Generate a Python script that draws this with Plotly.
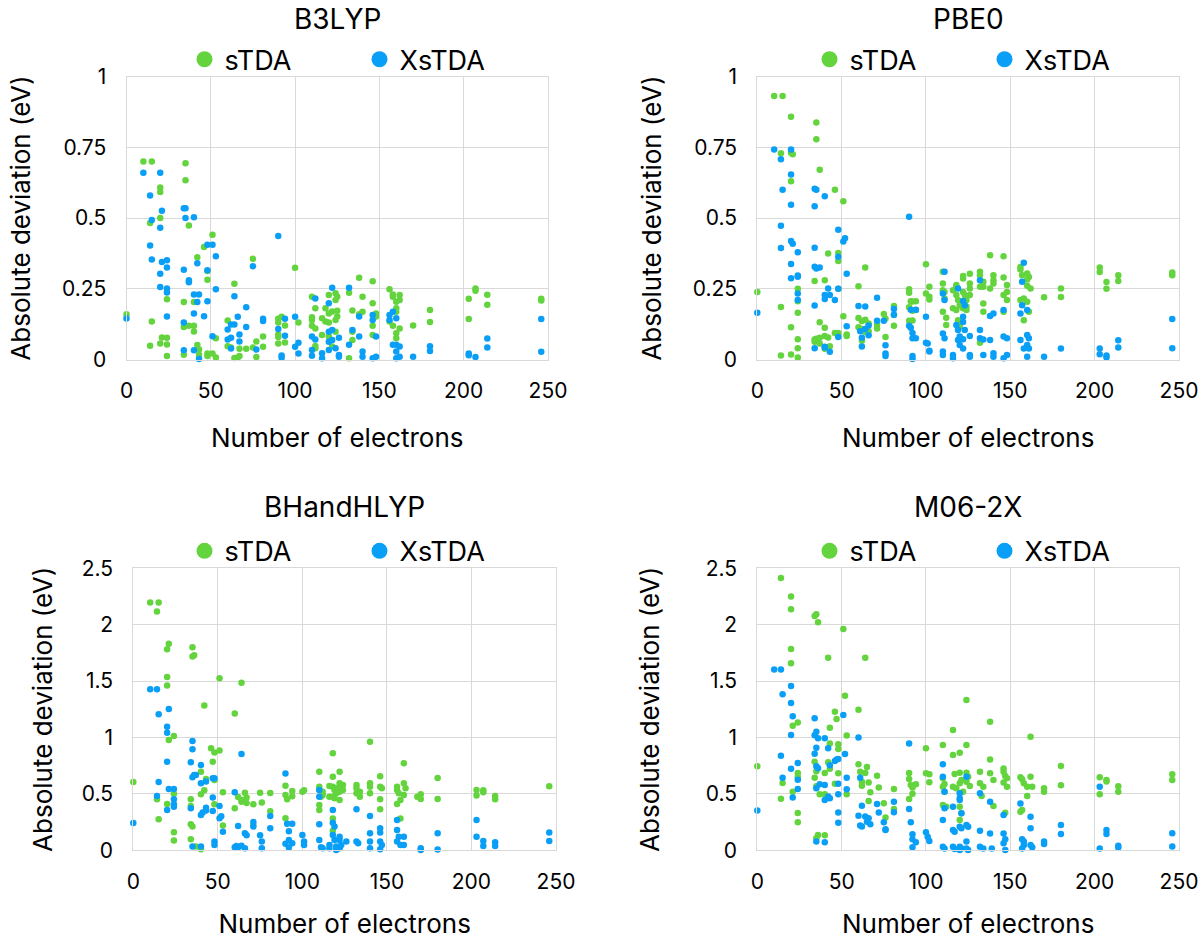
import plotly.graph_objects as go

# ---------------- data: (number of electrons, absolute deviation in eV) ----------------
B3LYP_STDA = [(0,0.16),(10,0.70),(15,0.70),(14,0.483),(15,0.134),(14,0.049),
    (20,0.608),(20,0.592),(20,0.50),(20,0.057),(21,0.078),
    (24,0.213),(24,0.077),(24,0.053),(24,0.012),
    (34,0.203),(34,0.115),(34,0.017),(35,0.694),(35,0.634),(37,0.474),(37,0.119),
    (40,0.203),(40,0.119),(40,0.099),(42,0.362),(42,0.051),(43,0.035),(43,0.017),(46,0.398),
    (48,0.313),(48,0.282),(48,0.021),(48,0.012),(51,0.441),(51,0.021),(53,0.075),(53,0.007),
    (60,0.138),(60,0.047),(62,0.042),(64,0.268),(64,0.005),(66,0.007),(67,0.038),(67,0.012),
    (71,0.038),(75,0.356),(75,0.042),(77,0.064),(77,0.009),(81,0.081),(81,0.045),
    (90,0.144),(90,0.131),(90,0.088),(90,0.08),(90,0.057),(92,0.151),(94,0.12),(94,0.06),
    (100,0.324),(102,0.131),
    (110,0.222),(110,0.149),(110,0.140),(110,0.119),(112,0.181),(112,0.110),(112,0.048),(112,0.040),
    (116,0.146),(116,0.087),(118,0.181),(118,0.134),(120,0.228),(120,0.163),(120,0.131),(120,0.081),
    (122,0.17),(122,0.046),(124,0.234),(124,0.210),(124,0.14),(124,0.098),(125,0.222),(125,0.172),(125,0.152),
    (132,0.236),(132,0.004),(134,0.173),(134,0.098),(134,0.069),(138,0.289),(138,0.16),(140,0.169),(140,0.222),
    (146,0.277),(146,0.199),(146,0.119),(146,0.087),(148,0.163),(148,0.152),(156,0.248),(156,0.134),
    (158,0.23),(158,0.222),(158,0.119),(160,0.204),(160,0.181),(160,0.169),(160,0.093),(160,0.075),
    (162,0.210),(162,0.228),(162,0.110),(170,0.12),(180,0.175),(180,0.133),(203,0.215),(203,0.143),
    (207,0.251),(207,0.243),(214,0.229),(214,0.194),(246,0.215),(246,0.209)]

B3LYP_XSTDA = [(0,0.145),(10,0.66),(14,0.58),(14,0.403),(15,0.493),(15,0.354),
    (20,0.66),(20,0.466),(20,0.303),(20,0.256),(21,0.526),(21,0.345),
    (24,0.351),(24,0.325),(24,0.251),(24,0.237),(24,0.152),
    (34,0.535),(34,0.317),(34,0.131),(34,0.033),(35,0.535),(35,0.50),(37,0.28),(37,0.273),
    (40,0.503),(40,0.23),(40,0.163),(40,0.033),(42,0.34),(42,0.203),(43,0.23),(43,0.002),(46,0.153),
    (48,0.406),(48,0.316),(48,0.206),(51,0.406),(51,0.082),(53,0.365),(53,0.248),
    (60,0.106),(60,0.071),(62,0.124),(62,0.077),(62,0.039),(64,0.224),(64,0.124),(66,0.151),
    (67,0.088),(67,0.064),(71,0.185),(71,0.115),(75,0.33),(77,0.035),(81,0.144),(81,0.136),
    (90,0.437),(90,0.108),(92,0.006),(92,0.014),(94,0.144),(94,0.084),(100,0.151),(100,0.045),
    (102,0.059),(102,0.021),(110,0.081),(110,0.034),(110,0.013),(112,0.216),(112,0.071),
    (116,0.022),(116,0.004),(120,0.199),(120,0.098),(120,0.063),(120,0.034),
    (122,0.254),(122,0.104),(122,0.069),(124,0.040),(126,0.016),(126,0.077),(126,0.010),
    (132,0.254),(132,0.052),(134,0.104),(138,0.081),(138,0.152),(140,0.028),(140,0.010),
    (146,0.157),(146,0.140),(146,0.004),(148,0.081),(148,0.010),(156,0.157),(156,0.140),
    (158,0.169),(158,0.052),(160,0.146),(160,0.052),(160,0.028),(160,0.004),(162,0.046),(162,0.010),
    (170,0.010),(180,0.047),(180,0.030),(203,0.021),(203,0.015),(207,0.009),(214,0.074),(214,0.042),
    (246,0.143),(246,0.027)]

PBE0_STDA = [(0,0.239),(10,0.932),(15,0.932),(14,0.729),(14,0.186),(14,0.014),
    (20,0.858),(20,0.731),(21,0.726),(20,0.630),(20,0.114),(20,0.018),
    (24,0.206),(24,0.165),(24,0.25),(24,0.072),(24,0.040),(24,0.007),
    (35,0.838),(35,0.779),(34,0.278),(34,0.071),(35,0.073),(34,0.063),
    (37,0.671),(37,0.132),(37,0.077),(37,0.057),(40,0.28),(40,0.112),(40,0.083),(40,0.038),
    (42,0.375),(42,0.078),(43,0.047),(46,0.600),(46,0.094),
    (48,0.377),(48,0.348),(48,0.25),(48,0.094),(48,0.085),(51,0.560),(51,0.153),(53,0.088),(53,0.083),
    (60,0.259),(60,0.147),(62,0.136),(60,0.114),(62,0.108),(62,0.066),
    (64,0.325),(64,0.141),(64,0.106),(64,0.097),(66,0.127),(66,0.100),(71,0.122),(71,0.110),
    (75,0.161),(76,0.144),(76,0.080),(81,0.189),(81,0.157),(81,0.119),
    (90,0.248),(90,0.236),(91,0.206),(90,0.185),(90,0.137),(92,0.138),(92,0.205),(92,0.172),
    (94,0.206),(94,0.175),(100,0.337),(100,0.233),(102,0.222),(102,0.212),(102,0.257),
    (110,0.310),(110,0.269),(110,0.245),(111,0.239),(111,0.216),(110,0.169),(112,0.148),(112,0.122),
    (116,0.245),(116,0.181),(118,0.263),(118,0.257),(118,0.228),(119,0.210),(118,0.175),(119,0.139),(120,0.133),
    (120,0.192),(120,0.116),(122,0.295),(122,0.286),(122,0.239),(123,0.228),(122,0.181),
    (124,0.210),(124,0.187),(124,0.175),(126,0.303),(126,0.269),(126,0.251),(126,0.228),
    (132,0.310),(132,0.298),(132,0.257),(132,0.059),(134,0.275),(134,0.257),(134,0.198),(134,0.169),
    (138,0.369),(138,0.251),(140,0.298),(140,0.280),(140,0.269),
    (146,0.365),(146,0.290),(146,0.228),(146,0.169),(148,0.263),(148,0.239),(148,0.210),
    (156,0.327),(156,0.318),(157,0.298),(156,0.210),(158,0.216),(158,0.139),
    (160,0.304),(161,0.292),(160,0.283),(160,0.261),(162,0.251),(160,0.204),(161,0.169),
    (170,0.22),(180,0.251),(180,0.221),(203,0.325),(203,0.309),(207,0.274),(207,0.25),
    (214,0.298),(214,0.278),(246,0.308),(246,0.298)]

PBE0_XSTDA = [(0,0.165),(10,0.743),(14,0.708),(14,0.473),(14,0.394),(15,0.600),
    (20,0.743),(20,0.654),(20,0.547),(21,0.409),(20,0.419),(20,0.338),(20,0.287),
    (24,0.379),(24,0.297),(24,0.293),(24,0.210),(24,0.233),
    (34,0.604),(35,0.600),(34,0.542),(34,0.395),(34,0.328),(35,0.322),(34,0.191),(34,0.040),
    (37,0.325),(40,0.577),(40,0.228),(40,0.214),(40,0.045),(40,0.042),
    (42,0.251),(43,0.228),(43,0.027),(46,0.21),(48,0.459),(48,0.363),(48,0.25),(48,0.08),
    (51,0.417),(52,0.429),(53,0.303),(53,0.118),(60,0.189),(61,0.1),(62,0.077),(62,0.046),
    (64,0.187),(64,0.108),(66,0.12),(66,0.086),(71,0.218),(71,0.137),
    (75,0.137),(76,0.05),(76,0.021),(76,0.012),(81,0.179),(81,0.158),
    (90,0.505),(90,0.119),(91,0.112),(92,0.094),(92,0.012),(92,0.002),(91,0.176),(92,0.075),
    (94,0.176),(94,0.075),(100,0.151),(100,0.059),(101,0.057),(102,0.031),(102,0.028),
    (111,0.310),(110,0.233),(111,0.210),(110,0.092),(111,0.075),(110,0.028),(110,0.016),
    (116,0.016),(116,0.004),(119,0.251),(118,0.122),(119,0.104),(120,0.081),(119,0.069),(120,0.051),
    (122,0.207),(123,0.192),(122,0.151),(122,0.133),(123,0.104),(122,0.072),(122,0.039),
    (126,0.083),(126,0.016),(126,0.010),(132,0.280),(132,0.104),(132,0.075),(134,0.071),(134,0.016),
    (138,0.154),(138,0.069),(140,0.163),(140,0.022),(140,0.010),(146,0.175),(146,0.081),(146,0.004),
    (148,0.075),(148,0.016),(158,0.342),(157,0.275),(157,0.192),(156,0.163),(156,0.069),(158,0.039),
    (160,0.175),(160,0.087),(161,0.075),(160,0.051),(161,0.039),(160,0.010),
    (170,0.010),(180,0.039),(203,0.039),(203,0.019),(207,0.014),(207,0.007),(214,0.068),(214,0.042),
    (246,0.143),(246,0.040)]

BHANDHLYP_STDA = [(0,0.606),(10,2.196),(15,2.196),(14,2.116),(14,0.452),(15,0.275),
    (21,1.832),(20,1.782),(20,1.537),(20,1.46),(21,0.978),(20,0.411),
    (24,1.014),(24,0.502),(24,0.160),(24,0.086),
    (35,1.8),(35,1.717),(36,1.73),(34,0.452),(34,0.393),(34,0.230),(35,0.21),(34,0.098),(37,0.033),
    (40,0.697),(40,0.496),(40,0.009),(42,1.283),(43,0.632),(42,0.532),
    (46,0.904),(48,0.866),(47,0.786),(48,0.624),(48,0.408),(51,1.525),(51,0.884),(53,0.514),(53,0.219),
    (60,1.212),(60,0.372),(62,0.473),(64,1.486),(64,0.446),(64,0.431),(66,0.511),(67,0.467),(67,0.420),
    (71,0.408),(71,0.225),(75,0.511),(76,0.423),(81,0.508),(81,0.346),
    (90,0.573),(90,0.49),(91,0.452),(90,0.284),(94,0.526),(94,0.479),(100,0.52),(101,0.532),
    (110,0.697),(110,0.564),(110,0.535),(111,0.475),(110,0.402),(110,0.357),(112,0.52),(112,0.49),
    (116,0.570),(116,0.475),(118,0.860),(118,0.653),(118,0.564),(119,0.535),(118,0.475),(119,0.461),
    (118,0.283),(118,0.174),(120,0.549),(120,0.505),(122,0.697),(122,0.594),(122,0.564),(123,0.549),
    (122,0.520),(122,0.446),(124,0.579),(124,0.535),(132,0.579),(132,0.549),(132,0.505),
    (134,0.475),(134,0.520),(140,0.963),(140,0.594),(140,0.564),(140,0.505),
    (146,0.657),(146,0.564),(147,0.549),(146,0.452),(146,0.363),(156,0.564),(156,0.535),(157,0.505),
    (156,0.411),(158,0.446),(158,0.283),(160,0.771),(160,0.594),(161,0.549),(160,0.490),(168,0.475),
    (170,0.496),(170,0.455),(180,0.641),(180,0.455),(203,0.535),(203,0.485),(207,0.532),(207,0.514),
    (214,0.482),(214,0.452),(246,0.567)]

BHANDHLYP_XSTDA = [(0,0.242),(10,1.427),(14,1.427),(15,1.206),(15,0.606),(14,0.482),
    (21,1.253),(20,1.096),(20,1.043),(20,0.786),(21,0.544),(20,0.358),
    (24,0.544),(24,0.452),(24,0.408),(24,0.387),
    (35,0.969),(35,0.895),(34,0.78),(35,0.647),(36,0.668),(34,0.372),(35,0.033),(37,0.668),
    (40,0.756),(40,0.594),(40,0.313),(41,0.334),(40,0.033),(43,0.609),(43,0.352),(43,0.378),
    (47,0.638),(48,0.638),(47,0.467),(47,0.349),(48,0.077),(48,0.047),(51,0.393),(51,0.284),(52,0.301),
    (53,0.165),(60,0.514),(60,0.027),(61,0.038),(62,0.216),(62,0.027),(64,0.854),(64,0.041),
    (66,0.151),(67,0.133),(66,0.018),(71,0.251),(71,0.210),(75,0.133),(76,0.077),(76,0.018),
    (81,0.304),(81,0.195),(90,0.68),(91,0.236),(92,0.168),(92,0.091),(90,0.059),(92,0.024),
    (94,0.236),(94,0.062),(100,0.136),(101,0.077),(101,0.047),
    (110,0.535),(110,0.475),(110,0.231),(110,0.092),(111,0.027),(112,0.018),(116,0.047),(116,0.018),
    (118,0.357),(118,0.245),(119,0.210),(118,0.136),(119,0.092),(120,0.033),(120,0.003),
    (122,0.121),(122,0.092),(123,0.047),(122,0.018),(126,0.077),(132,0.363),(132,0.077),(133,0.062),
    (140,0.304),(140,0.151),(140,0.077),(140,0.018),(146,0.195),(146,0.157),(146,0.077),(147,0.047),(146,0.009),
    (156,0.269),(156,0.180),(157,0.121),(156,0.077),(158,0.047),(160,0.121),(160,0.047),
    (170,0.018),(170,0.003),(180,0.151),(180,0.006),(203,0.269),(203,0.121),(207,0.083),(207,0.038),
    (214,0.071),(214,0.038),(246,0.157),(246,0.083)]

M062X_STDA = [(0,0.745),(14,2.414),(14,0.458),(15,0.597),
    (20,2.249),(20,2.137),(20,1.785),(20,1.658),(21,1.105),(21,0.52),
    (24,1.132),(24,0.686),(24,0.65),(24,0.331),(24,0.248),
    (34,2.077),(35,2.092),(36,2.021),(34,0.786),(35,0.70),(34,0.644),(35,0.567),(37,0.496),(36,0.136),(35,0.106),
    (40,0.686),(40,0.496),(40,0.133),(42,1.708),(43,1.087),(43,0.946),(42,0.780),(43,0.724),
    (46,1.229),(47,1.164),(48,0.94),(48,0.899),(48,0.683),(46,0.59),
    (51,1.962),(52,1.371),(53,1.017),(53,0.496),(60,1.247),(60,0.762),(61,0.697),(62,0.608),(62,0.573),
    (64,1.708),(65,0.738),(64,0.686),(66,0.602),(67,0.514),(66,0.437),
    (71,0.662),(72,0.556),(75,0.417),(76,0.29),(81,0.544),(81,0.366),
    (90,0.686),(90,0.632),(91,0.579),(92,0.556),(92,0.502),(90,0.455),(94,0.585),
    (100,0.904),(100,0.683),(102,0.674),(102,0.603),
    (110,0.933),(110,0.638),(111,0.588),(110,0.564),(111,0.520),(110,0.402),(112,0.387),
    (116,1.066),(116,0.844),(117,0.676),(116,0.564),(118,0.550),
    (120,0.865),(120,0.688),(121,0.623),(120,0.594),(122,0.520),(120,0.387),(121,0.328),(120,0.268),
    (124,1.332),(124,0.933),(124,0.688),(125,0.653),(124,0.608),(126,0.570),
    (132,0.697),(132,0.594),(134,0.564),(133,0.482),(138,1.140),(138,0.806),(138,0.682),(140,0.623),(140,0.392),
    (146,0.726),(146,0.697),(147,0.659),(148,0.638),(146,0.600),(148,0.564),(147,0.333),
    (156,0.647),(157,0.629),(158,0.594),(160,0.564),(160,0.482),(156,0.342),(157,0.357),
    (162,1.007),(162,0.653),(163,0.564),(170,0.550),(170,0.520),
    (180,0.748),(180,0.576),(203,0.647),(203,0.496),(207,0.624),(207,0.61),(214,0.567),(214,0.52),
    (246,0.674),(246,0.624)]

M062X_XSTDA = [(0,0.352),(10,1.602),(14,1.602),(14,0.839),(15,1.383),(15,0.644),
    (20,1.457),(20,1.306),(21,1.188),(20,1.022),(20,0.724),(21,0.467),
    (24,0.774),(24,0.626),(24,0.544),
    (34,1.17),(35,1.052),(34,1.02),(36,0.993),(35,0.91),(34,0.857),(35,0.745),(36,0.727),(37,0.585),(35,0.55),(35,0.077),
    (40,0.993),(40,0.579),(40,0.446),(40,0.071),(42,0.905),(43,0.754),(42,0.476),(43,0.461),
    (46,0.792),(47,0.804),(48,0.810),(48,0.591),(48,0.496),(48,0.334),(48,0.245),
    (51,1.2),(52,0.854),(53,0.644),(53,0.541),(60,0.999),(61,0.644),(62,0.396),(60,0.307),(62,0.21),(61,0.219),
    (64,0.30),(65,0.254),(67,0.230),(66,0.284),(71,0.41),(72,0.334),(75,0.248),(76,0.180),(76,0.186),
    (81,0.431),(81,0.337),(90,0.946),(90,0.366),(91,0.248),(92,0.142),(92,0.098),(92,0.027),(94,0.071),
    (100,0.16),(101,0.121),(102,0.083),
    (110,0.762),(110,0.653),(111,0.520),(111,0.372),(110,0.268),(110,0.032),(111,0.017),
    (116,0.387),(116,0.180),(117,0.165),(116,0.032),(117,0.011),
    (120,0.505),(120,0.461),(120,0.446),(121,0.328),(120,0.209),(121,0.195),(120,0.032),(121,0.017),(120,0.003),
    (124,0.653),(124,0.224),(125,0.209),(124,0.077),(124,0.017),(125,0.003),
    (132,0.505),(132,0.174),(132,0.032),(134,0.017),(138,0.431),(138,0.150),(139,0.017),
    (146,0.313),(146,0.150),(147,0.097),(146,0.062),(147,0.003),
    (156,0.416),(157,0.097),(158,0.077),(158,0.047),(157,0.017),
    (162,0.298),(162,0.195),(162,0.047),(163,0.026),(170,0.077),(170,0.056),
    (180,0.225),(180,0.145),(203,0.564),(203,0.015),(207,0.18),(207,0.145),(214,0.041),(214,0.024),
    (246,0.151),(246,0.033)]

PANEL_TITLES = ["B3LYP", "PBE0", "BHandHLYP", "M06-2X"]
SERIES_NAMES = ["sTDA", "XsTDA"]
X_TICKS = [0, 50, 100, 150, 200, 250]
Y_TICKS_SMALL = [0, 0.25, 0.5, 0.75, 1]
Y_TICKTEXT_SMALL = ["0", "0.25", "0.5", "0.75", "1"]
Y_TICKS_LARGE = [0, 0.5, 1, 1.5, 2, 2.5]
Y_TICKTEXT_LARGE = ["0", "0.5", "1", "1.5", "2", "2.5"]

# ---------------- style ----------------
W, H = 1203, 939
FONT = "Inter"
GREEN = "#63d43d"
BLUE = "#0a9ff6"
GRID = "#d9d9d9"

# plot areas in pixels (left, right, top, bottom)
AREAS = [(126.5, 548.0, 76.7, 359.5), (757.3, 1179.0, 76.7, 359.5),
         (133.3, 556.0, 568.3, 850.3), (757.3, 1179.0, 568.3, 850.3)]
LEGEND_LEFT = [184.5, 809.5, 184.5, 809.5]   # px
TITLE_TOP = [0, 0, 488, 488]                 # px (top of title text box)
XTITLE_STANDOFF = [27, 27, 32, 32]
YTITLE_STANDOFF = [23, 23, 21, 38]
TICK_SIZE = 21
AXIS_TITLE_SIZE = 26

panels = [
    (PANEL_TITLES[0], B3LYP_STDA, B3LYP_XSTDA, 1.0, Y_TICKS_SMALL, Y_TICKTEXT_SMALL),
    (PANEL_TITLES[1], PBE0_STDA, PBE0_XSTDA, 1.0, Y_TICKS_SMALL, Y_TICKTEXT_SMALL),
    (PANEL_TITLES[2], BHANDHLYP_STDA, BHANDHLYP_XSTDA, 2.5, Y_TICKS_LARGE, Y_TICKTEXT_LARGE),
    (PANEL_TITLES[3], M062X_STDA, M062X_XSTDA, 2.5, Y_TICKS_LARGE, Y_TICKTEXT_LARGE),
]

fig = go.Figure()
layout = dict(width=W, height=H, margin=dict(l=0, r=0, t=0, b=0, autoexpand=False), autosize=False,
              paper_bgcolor="white", plot_bgcolor="white",
              font=dict(family=FONT, color="#000000"), annotations=[])

for i, (title, s_pts, x_pts, ymax, yt, ytt) in enumerate(panels, start=1):
    l, r, t, b = AREAS[i - 1]
    xa = "x" if i == 1 else f"x{i}"
    ya = "y" if i == 1 else f"y{i}"
    lg = "legend" if i == 1 else f"legend{i}"
    for pts, color, nm in ((s_pts, GREEN, SERIES_NAMES[0]), (x_pts, BLUE, SERIES_NAMES[1])):
        fig.add_trace(go.Scatter(x=[p[0] for p in pts], y=[p[1] for p in pts], mode="markers",
                                 marker=dict(color=color, size=6.5, line=dict(width=0)),
                                 name=nm, xaxis=xa, yaxis=ya, showlegend=False, cliponaxis=False))
    for color, nm in ((GREEN, SERIES_NAMES[0]), (BLUE, SERIES_NAMES[1])):
        fig.add_trace(go.Scatter(x=[None], y=[None], mode="markers",
                                 marker=dict(color=color, size=20), name=nm,
                                 xaxis=xa, yaxis=ya, showlegend=True, legend=lg))
    xdom = [l / W, r / W]
    ydom = [1 - b / H, 1 - t / H]
    layout["xaxis" if i == 1 else f"xaxis{i}"] = dict(
        domain=xdom, anchor=ya, range=[0, 250], tickvals=X_TICKS,
        showgrid=True, gridcolor=GRID, gridwidth=1, showline=True, linecolor=GRID, linewidth=1,
        mirror=True, zeroline=False, ticks="", ticklabelstandoff=12, automargin=False,
        tickfont=dict(size=TICK_SIZE, family=FONT, color="#000"),
        title=dict(text="Number of electrons", font=dict(size=AXIS_TITLE_SIZE, family=FONT, color="#000"),
                   standoff=XTITLE_STANDOFF[i - 1]))
    layout["yaxis" if i == 1 else f"yaxis{i}"] = dict(
        domain=ydom, anchor=xa, range=[0, ymax], tickvals=yt, ticktext=ytt,
        showgrid=True, gridcolor=GRID, gridwidth=1, showline=True, linecolor=GRID, linewidth=1,
        mirror=True, zeroline=False, ticks="", ticklabelstandoff=15, automargin=False,
        tickfont=dict(size=TICK_SIZE, family=FONT, color="#000"),
        title=dict(text="Absolute deviation (eV)", font=dict(size=AXIS_TITLE_SIZE, family=FONT, color="#000"),
                   standoff=YTITLE_STANDOFF[i - 1]))
    cx = (l + r) / 2
    layout["annotations"].append(dict(text=title, x=cx / W, y=1 - TITLE_TOP[i - 1] / H, xref="paper", yref="paper",
                                      xanchor="center", yanchor="top", showarrow=False,
                                      font=dict(size=28, family=FONT, color="#000")))
    layout[lg] = dict(orientation="h", x=LEGEND_LEFT[i - 1] / W, y=1 - (t - 17) / H, xanchor="left", yanchor="middle",
                      font=dict(size=27, family=FONT, color="#000"), bgcolor="rgba(0,0,0,0)",
                      entrywidth=130, entrywidthmode="pixels", itemclick=False, itemdoubleclick=False)

fig.update_layout(**layout)
fig.write_html("out.html")
